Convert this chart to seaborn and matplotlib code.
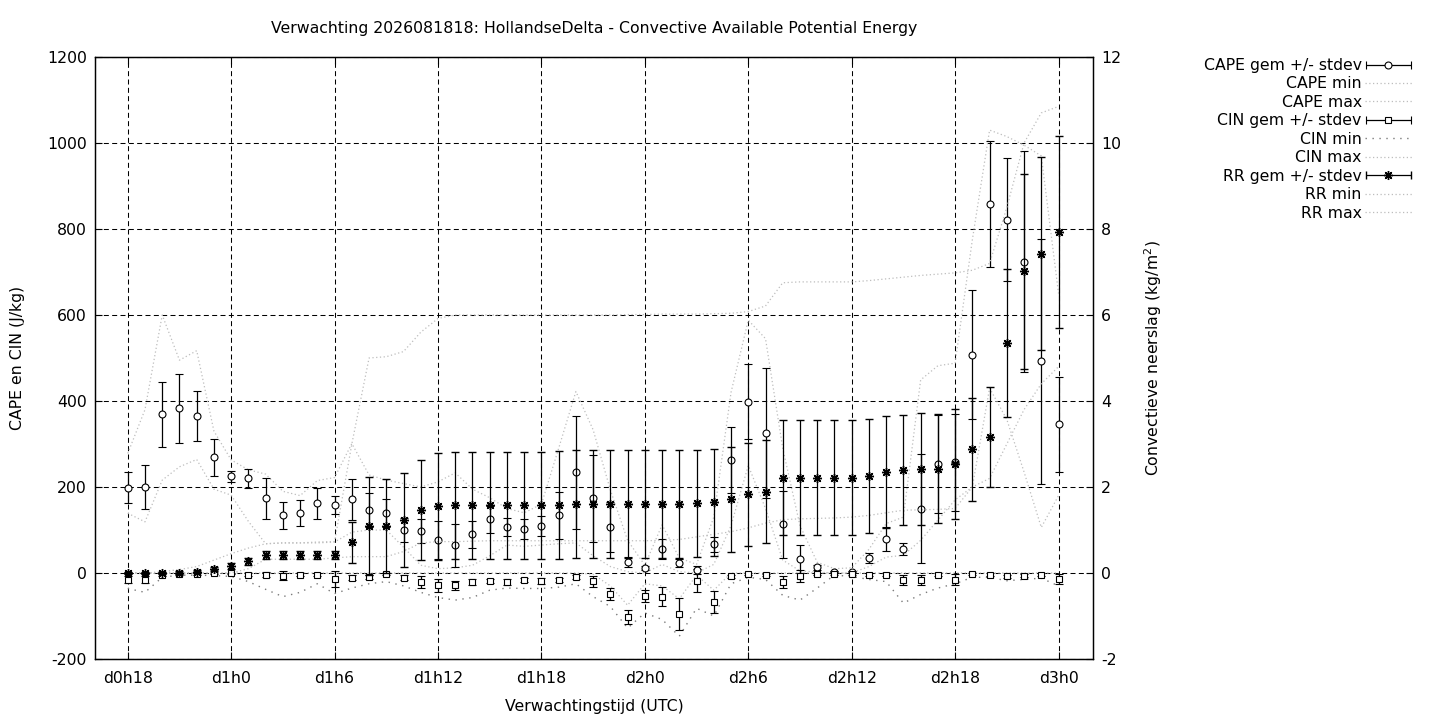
import numpy as np
import pandas as pd
import matplotlib
matplotlib.use("Agg")
import matplotlib.pyplot as plt
import seaborn as sns
from matplotlib.container import ErrorbarContainer
from matplotlib.legend_handler import HandlerErrorbar

# verwachtingsuren, geteld vanaf d0h0 (d0h18 .. d3h0)
uren = list(range(18, 73))
tick_uren = [18, 24, 30, 36, 42, 48, 54, 60, 66, 72]
tick_labels = ["d0h18", "d1h0", "d1h6", "d1h12", "d1h18",
               "d2h0", "d2h6", "d2h12", "d2h18", "d3h0"]

# CAPE (J/kg)
cape_gem = [198, 200, 369, 383, 365, 269, 225, 220, 174, 134,
            139, 162, 158, 171, 146, 139, 100, 98, 77, 64,
            90, 125, 107, 102, 109, 134, 234, 174, 107, 26,
            12, 56, 23, 7, 67, 262, 398, 325, 113, 32,
            13, 2, 3, 35, 79, 56, 150, 253, 257, 508,
            858, 821, 724, 492, 346]
cape_sd = [36, 51, 75, 80, 58, 43, 13, 22, 48, 31,
           30, 36, 20, 48, 39, 33, 28, 28, 44, 51,
           31, 31, 20, 23, 23, 54, 131, 101, 59, 12,
           5, 23, 10, 10, 17, 77, 87, 151, 78, 32,
           5, 2, 2, 11, 28, 13, 127, 114, 112, 151,
           147, 143, 257, 285, 110]
cape_min = [139, 119, 216, 247, 264, 195, 181, 120, 68, 70,
            70, 70, 72, 95, 100, 100, 60, 18, 10, 12,
            18, 40, 65, 62, 65, 68, 70, 40, 15, 3,
            0, 20, 3, 0, 20, 110, 250, 150, 30, 5,
            2, 0, 0, 15, 37, 41, 76, 123, 170, 200,
            430, 357, 235, 106, 180]
cape_max = [278, 380, 600, 495, 517, 330, 263, 240, 230, 190,
            180, 215, 222, 301, 228, 216, 208, 200, 212, 233,
            195, 175, 150, 140, 160, 290, 422, 333, 193, 76,
            18, 112, 35, 20, 130, 420, 588, 545, 290, 110,
            25, 10, 12, 55, 115, 130, 449, 482, 488, 775,
            1030, 1015, 995, 970, 650]

# CIN (J/kg)
cin_gem = [-16, -16, -4, -2, -2, -1, -1, -4, -4, -6,
           -4, -4, -14, -11, -9, -2, -11, -21, -29, -29,
           -21, -19, -21, -16, -19, -16, -10, -19, -49, -102,
           -53, -55, -95, -18, -67, -8, -2, -5, -21, -7,
           -2, -2, -2, -4, -4, -16, -16, -4, -16, -2,
           -4, -8, -6, -4, -14]
cin_sd = [8, 8, 3, 2, 2, 2, 2, 3, 6, 10,
          3, 3, 19, 6, 5, 3, 6, 13, 15, 10,
          8, 5, 6, 4, 7, 5, 5, 13, 14, 17,
          14, 22, 37, 27, 25, 4, 3, 3, 14, 14,
          3, 2, 2, 3, 3, 12, 12, 3, 13, 2,
          3, 3, 3, 3, 11]
cin_min = [-36, -45, -10, -5, -5, -6, -8, -20, -38, -55,
           -45, -25, -48, -35, -25, -20, -30, -45, -57, -63,
           -57, -40, -35, -36, -36, -33, -25, -55, -78, -128,
           -93, -108, -147, -82, -100, -25, -10, -15, -52, -63,
           -35, -5, -8, -15, -20, -70, -50, -35, -25, -10,
           -10, -18, -15, -12, -30]
cin_max = [0, 0, 0, 0, 0, 0, 0, 0, 0, 0,
           0, 0, 0, 0, 0, 0, 0, 0, 0, 0,
           0, 0, 0, 0, 0, 0, 0, -3, -30, -75,
           -25, -30, -60, -5, -40, 0, 0, 0, 0, 0,
           0, 0, 0, 0, 0, 0, 0, 0, 0, 0,
           0, 0, 0, 0, 0]

# convectieve neerslag (kg/m2), rechter as
rr_gem = [0, 0, 0, 0.01, 0.03, 0.09, 0.17, 0.27, 0.42, 0.42,
          0.42, 0.42, 0.42, 0.71, 1.09, 1.09, 1.23, 1.46, 1.55, 1.57,
          1.57, 1.57, 1.57, 1.57, 1.57, 1.58, 1.6, 1.6, 1.6, 1.6,
          1.6, 1.6, 1.6, 1.62, 1.64, 1.72, 1.83, 1.89, 2.22, 2.22,
          2.22, 2.22, 2.22, 2.26, 2.34, 2.39, 2.41, 2.43, 2.53, 2.88,
          3.17, 5.35, 7.02, 7.43, 7.93]
rr_sd = [0.02, 0.02, 0.02, 0.03, 0.04, 0.05, 0.07, 0.08, 0.1, 0.1,
         0.1, 0.1, 0.1, 0.47, 1.14, 1.1, 1.09, 1.16, 1.25, 1.25,
         1.25, 1.25, 1.25, 1.25, 1.25, 1.25, 1.26, 1.26, 1.26, 1.26,
         1.26, 1.26, 1.26, 1.25, 1.24, 1.22, 1.2, 1.2, 1.33, 1.33,
         1.33, 1.33, 1.33, 1.32, 1.3, 1.28, 1.3, 1.27, 1.28, 1.2,
         1.16, 1.73, 2.27, 2.25, 2.23]
rr_min = [0, 0, 0, 0, 0, 0, 0, 0.1, 0.32, 0.32,
          0.32, 0.32, 0.35, 0.38, 0.38, 0.38, 0.5, 0.7, 0.73, 0.73,
          0.74, 0.75, 0.75, 0.75, 0.75, 0.75, 0.75, 0.75, 0.75, 0.75,
          0.75, 0.76, 0.78, 0.84, 0.9, 0.96, 1.05, 1.16, 1.24, 1.26,
          1.27, 1.28, 1.3, 1.34, 1.4, 1.46, 1.47, 1.48, 1.5, 2.0,
          2.2, 3.0, 3.8, 4.4, 4.8]
rr_max = [0, 0, 0.03, 0.08, 0.15, 0.3, 0.45, 0.58, 0.68, 0.7,
          0.7, 0.72, 0.73, 3.0, 5.0, 5.03, 5.15, 5.6, 5.92, 6.0,
          6.0, 6.0, 6.0, 6.0, 6.0, 6.0, 6.0, 6.0, 6.0, 6.01,
          6.01, 6.02, 6.02, 6.02, 6.03, 6.04, 6.08, 6.21, 6.75, 6.77,
          6.77, 6.77, 6.77, 6.8, 6.84, 6.88, 6.92, 6.95, 6.98, 7.04,
          7.2, 8.5, 10.0, 10.7, 10.85]

df = pd.DataFrame({"uur": uren,
                   "cape_gem": cape_gem, "cape_sd": cape_sd,
                   "cape_min": cape_min, "cape_max": cape_max,
                   "cin_gem": cin_gem, "cin_sd": cin_sd,
                   "cin_min": cin_min, "cin_max": cin_max,
                   "rr_gem": rr_gem, "rr_sd": rr_sd,
                   "rr_min": rr_min, "rr_max": rr_max})

sns.set_style("white", {"axes.edgecolor": "black", "text.color": "black",
                        "xtick.color": "black", "ytick.color": "black",
                        "axes.labelcolor": "black"})
fs = 11.3
plt.rcParams["font.family"] = ["DejaVu Sans"]
plt.rcParams["font.size"] = fs
plt.rcParams["axes.unicode_minus"] = False

fig = plt.figure(figsize=(14.4, 7.2), dpi=100)
ax = fig.add_axes([95 / 1440, 1 - 659 / 720, 998 / 1440, 602 / 720])
ax2 = ax.twinx()

licht = "#bdbdbd"
stip = (0, (1, 2))
bar_kw = dict(ecolor="black", elinewidth=0.9, capsize=3.2, capthick=0.9,
              linestyle="none", zorder=3)

# CAPE
cape_bar = ax.errorbar(df.uur, df.cape_gem, yerr=df.cape_sd, marker="o", ms=5,
                       mfc="white", mec="black", mew=0.8, **bar_kw)
sns.lineplot(data=df, x="uur", y="cape_min", ax=ax, color=licht, lw=0.9, linestyle=stip)
l_cape_min = ax.lines[-1]
sns.lineplot(data=df, x="uur", y="cape_max", ax=ax, color=licht, lw=0.9, linestyle=stip)
l_cape_max = ax.lines[-1]

# CIN
cin_bar = ax.errorbar(df.uur, df.cin_gem, yerr=df.cin_sd, marker="s", ms=5,
                      mfc="white", mec="black", mew=0.8, **bar_kw)
sns.lineplot(data=df, x="uur", y="cin_min", ax=ax, color="#7a7a7a", lw=1.0,
             linestyle=(0, (1, 4)))
l_cin_min = ax.lines[-1]
sns.lineplot(data=df, x="uur", y="cin_max", ax=ax, color=licht, lw=0.9, linestyle=stip)
l_cin_max = ax.lines[-1]

# RR op de rechter as
rr_bar = ax2.errorbar(df.uur, df.rr_gem, yerr=df.rr_sd, marker=(8, 2, 0), ms=6.5,
                      mec="black", mew=1.0, color="black", **bar_kw)
sns.lineplot(data=df, x="uur", y="rr_min", ax=ax2, color=licht, lw=0.9, linestyle=stip)
l_rr_min = ax2.lines[-1]
sns.lineplot(data=df, x="uur", y="rr_max", ax=ax2, color=licht, lw=0.9, linestyle=stip)
l_rr_max = ax2.lines[-1]

# assen
ax.set_xlim(16.1, 74.0)
ax.set_ylim(-200, 1200)
ax.set_yticks(range(-200, 1201, 200))
ax.set_xticks(tick_uren)
ax.set_xticklabels(tick_labels)
ax2.set_ylim(-2, 12)
ax2.set_yticks(range(-2, 13, 2))
ax.set_xlabel("")
ax.set_ylabel("")
ax2.set_ylabel("")

ax.grid(True, color="black", linestyle=(0, (4.8, 3.2)), linewidth=0.75)
ax.set_axisbelow(True)
for a in (ax, ax2):
    for s in a.spines.values():
        s.set_linewidth(0.9)
        s.set_color("black")

ax.tick_params(axis="x", direction="in", top=True, bottom=True, length=5,
               width=0.8, pad=8.5, labelsize=fs)
ax.tick_params(axis="y", direction="in", left=True, right=False, length=5,
               width=0.8, pad=6, labelsize=fs)
ax2.tick_params(axis="y", direction="in", right=True, length=5, width=0.8,
                pad=6, labelsize=fs)

fig.text(594 / 1440, 1 - 29 / 720,
         "Verwachting 2026081818: HollandseDelta - Convective Available Potential Energy",
         ha="center", va="center", fontsize=fs)
fig.text(594 / 1440, 1 - 706 / 720, "Verwachtingstijd (UTC)",
         ha="center", va="center", fontsize=fs)
fig.text(18 / 1440, 1 - 358 / 720, "CAPE en CIN (J/kg)", rotation=90,
         ha="center", va="center", fontsize=fs)
fig.text(1153 / 1440, 1 - 358 / 720, "Convectieve neerslag (kg/m$^2$)", rotation=90,
         ha="center", va="center", fontsize=fs)

# legenda: errorbars horizontaal tekenen zoals gnuplot
for c in (cape_bar, cin_bar, rr_bar):
    c.has_xerr, c.has_yerr = True, False

handles = [cape_bar, l_cape_min, l_cape_max, cin_bar, l_cin_min, l_cin_max,
           rr_bar, l_rr_min, l_rr_max]
labels = ["CAPE gem +/- stdev", "CAPE min", "CAPE max",
          "CIN gem +/- stdev", "CIN min", "CIN max",
          "RR gem +/- stdev", "RR min", "RR max"]
fig.legend(handles, labels, loc="upper right",
           bbox_to_anchor=(1412 / 1440, 1 - 58 / 720),
           frameon=False, markerfirst=False, handlelength=3.0,
           handletextpad=0.2, labelspacing=0.22, borderpad=0,
           borderaxespad=0, fontsize=fs,
           handler_map={ErrorbarContainer: HandlerErrorbar(xerr_size=1.45)})

fig.savefig("out.png", dpi=100)
